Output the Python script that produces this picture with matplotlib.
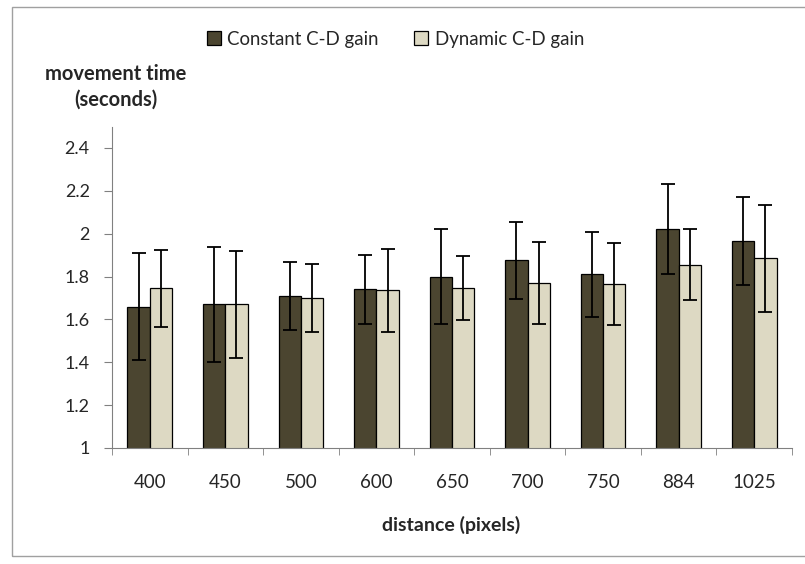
import numpy as np
import matplotlib.pyplot as plt
from matplotlib.patches import Rectangle

plt.rcParams['font.family'] = ['Lato', 'DejaVu Sans']

# dados
distancias = ["400", "450", "500", "600", "650", "700", "750", "884", "1025"]
constante = [1.66, 1.67, 1.71, 1.74, 1.80, 1.875, 1.81, 2.02, 1.965]
constante_err = [0.25, 0.27, 0.16, 0.16, 0.22, 0.18, 0.20, 0.21, 0.205]
dinamico = [1.745, 1.67, 1.70, 1.735, 1.745, 1.77, 1.765, 1.855, 1.885]
dinamico_err = [0.18, 0.25, 0.16, 0.195, 0.15, 0.19, 0.19, 0.165, 0.25]

cor_escura = "#4b4530"
cor_clara = "#ddd9c3"
cor_texto = "#262626"

fig = plt.figure(figsize=(8.05, 5.64), dpi=100)
#moldura externa (estilo excel)
fig.patches.append(Rectangle((12 / 805, 8 / 564), 800 / 805, 549 / 564, transform=fig.transFigure,
                             fill=False, edgecolor="#a0a0a0", linewidth=1.0))

ax = fig.add_axes([112 / 805, 116 / 564, 680 / 805, 321.5 / 564])

x = np.arange(len(distancias))
w = 0.295
ax.bar(x - w / 2, constante, w, yerr=constante_err, color=cor_escura, edgecolor="black",
       linewidth=0.9, capsize=5, error_kw=dict(elinewidth=1.3, capthick=1.3, ecolor="black"),
       label="Constant C-D gain")
ax.bar(x + w / 2, dinamico, w, yerr=dinamico_err, color=cor_clara, edgecolor="black",
       linewidth=0.9, capsize=5, error_kw=dict(elinewidth=1.3, capthick=1.3, ecolor="black"),
       label="Dynamic C-D gain")

ax.set_xlim(-0.5, len(distancias) - 0.5)
ax.set_ylim(1, 2.5)
ax.set_yticks([1, 1.2, 1.4, 1.6, 1.8, 2, 2.2, 2.4])
ax.set_yticklabels(["1", "1.2", "1.4", "1.6", "1.8", "2", "2.2", "2.4"])
ax.set_xticks(x)
ax.set_xticklabels(distancias)
ax.set_xticks(np.arange(len(distancias) + 1) - 0.5, minor=True)
ax.tick_params(axis="x", which="major", length=0, pad=19, labelsize=13.5, labelcolor=cor_texto)
ax.tick_params(axis="x", which="minor", length=5, color="#808080")
ax.tick_params(axis="y", length=6, pad=10, color="#808080", labelsize=13, labelcolor=cor_texto)

for lado in ["top", "right"]:
    ax.spines[lado].set_visible(False)
for lado in ["left", "bottom"]:
    ax.spines[lado].set_color("#808080")

fig.text(451 / 805, 1 - 525 / 564, "distance (pixels)", ha="center", va="center",
         fontsize=14, fontweight="bold", color=cor_texto)
fig.text(116 / 805, 1 - 87 / 564, "movement time\n(seconds)", ha="center", va="center",
         fontsize=14.5, fontweight="bold", linespacing=1.35, color=cor_texto)

leg = fig.legend(loc="center left", bbox_to_anchor=(190 / 805, 1 - 39 / 564), ncol=2, frameon=False,
                 fontsize=13.4, handlelength=0.75, handleheight=0.75, handletextpad=0.35,
                 columnspacing=1.9)
for t in leg.get_texts():
    t.set_color(cor_texto)

fig.savefig("out.png", dpi=100)
